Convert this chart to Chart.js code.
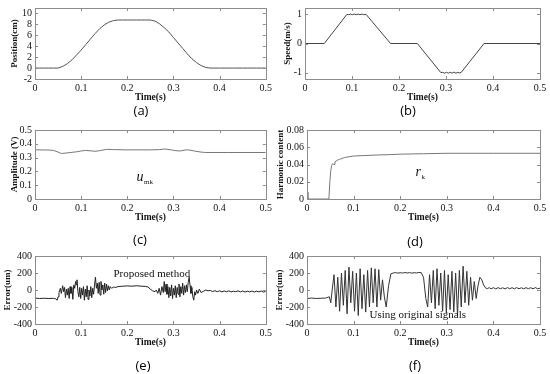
<!DOCTYPE html>
<html>
<head>
<meta charset="utf-8">
<script src="https://cdn.jsdelivr.net/npm/chart.js@4/dist/chart.umd.min.js"></script>
<style>
  body { margin: 0; background: #fff; width: 550px; height: 374px; position: relative; overflow: hidden; }
  canvas { position: absolute; }
  .lab { position: absolute; font-family: 'Open Sans', sans-serif; font-size: 13px; color: #000; transform: translate(-50%, -50%); }
</style>
</head>
<body>
<script>
// (a) position in cm, sampled every 10 ms
const posT = [0, 0.01, 0.02, 0.03, 0.04, 0.05, 0.06, 0.07, 0.08, 0.09, 0.1, 0.11, 0.12, 0.13, 0.14, 0.15, 0.16, 0.17, 0.18,
  0.19, 0.2, 0.21, 0.22, 0.23, 0.24, 0.25, 0.26, 0.27, 0.28, 0.29, 0.3, 0.31, 0.32, 0.33, 0.34, 0.35, 0.36, 0.37, 0.38,
  0.39, 0.4, 0.41, 0.42, 0.43, 0.44, 0.45, 0.46, 0.47, 0.48, 0.49, 0.5];
const posY = [0, 0, 0, 0, 0, 0, 0.3, 0.8, 1.5, 2.4, 3.3, 4.3, 5.3, 6.3, 7.2, 7.9, 8.4, 8.7, 8.8,
  8.8, 8.8, 8.8, 8.8, 8.8, 8.8, 8.8, 8.6, 8.1, 7.4, 6.6, 5.6, 4.6, 3.6, 2.6, 1.7, 1.0, 0.45, 0.1, 0,
  0, 0, 0, 0, 0, 0, 0, 0, 0, 0, 0, 0];

// (b) speed in m/s
const speedT = [0, 0.041, 0.089, 0.093, 0.097, 0.101, 0.105, 0.109, 0.113, 0.117, 0.121, 0.125, 0.13, 0.182, 0.239,
  0.289, 0.293, 0.297, 0.301, 0.305, 0.309, 0.313, 0.317, 0.321, 0.325, 0.329, 0.332, 0.381, 0.5];
const speedY = [0, 0, 1, 0.99, 1.01, 0.99, 1.01, 0.99, 1.01, 0.99, 1.01, 0.99, 1, 0, 0,
  -1, -0.99, -1.02, -0.99, -1.02, -0.99, -1.02, -0.98, -1.02, -0.99, -1.01, -1, 0, 0];

// (c) amplitude in V
const ampT = [0, 0.03, 0.04, 0.05, 0.057, 0.065, 0.08, 0.09, 0.1, 0.11, 0.12, 0.13, 0.14, 0.155, 0.17, 0.2, 0.25,
  0.27, 0.282, 0.295, 0.305, 0.315, 0.325, 0.333, 0.345, 0.36, 0.37, 0.42, 0.5];
const ampY = [0.356, 0.355, 0.352, 0.34, 0.33, 0.332, 0.338, 0.342, 0.348, 0.352, 0.349, 0.346, 0.35, 0.36, 0.358, 0.356, 0.356,
  0.358, 0.362, 0.356, 0.35, 0.348, 0.355, 0.356, 0.348, 0.34, 0.337, 0.337, 0.337];

// (d) harmonic content
const harmT = [0, 0.002, 0.047, 0.049, 0.051, 0.053, 0.055, 0.058, 0.06, 0.065, 0.07, 0.08, 0.09, 0.1, 0.12, 0.15,
  0.18, 0.2, 0.25, 0.3, 0.4, 0.5];
const harmY = [0.008, 0, 0, 0.02, 0.033, 0.039, 0.041, 0.04, 0.043, 0.045, 0.046, 0.048, 0.049, 0.0498, 0.0503, 0.051,
  0.0515, 0.052, 0.0525, 0.053, 0.053, 0.053];

// (e) error with the proposed method, um  [time, value]
const errProp = [[0, -95], [0.01, -100], [0.02, -97], [0.03, -100], [0.04, -98], [0.045, -105], [0.048, -120],
  [0.05, -80], [0.052, -30], [0.055, 20], [0.057, -40], [0.06, 50], [0.062, -20], [0.064, 30], [0.066, -90],
  [0.068, 10], [0.07, -60], [0.072, 20], [0.074, -100], [0.076, 40], [0.078, -40], [0.08, 30], [0.082, -110],
  [0.084, 60], [0.086, 20], [0.088, 100], [0.09, 60], [0.091, 120], [0.093, -20], [0.095, -80], [0.097, 30],
  [0.099, -100], [0.101, 20], [0.103, -60], [0.105, 40], [0.107, -120], [0.109, 10], [0.111, -80], [0.113, 50],
  [0.115, -110], [0.117, 0], [0.119, -70], [0.121, 40], [0.123, -90], [0.125, 20], [0.127, -50], [0.129, 60],
  [0.131, 150], [0.133, 20], [0.135, 80], [0.137, -40], [0.139, 90], [0.141, -60], [0.143, 100], [0.145, 0],
  [0.147, 60], [0.149, -50], [0.151, 80], [0.153, -30], [0.155, 70], [0.157, -10], [0.159, 50], [0.161, 0],
  [0.163, 40], [0.166, 20], [0.17, 35], [0.175, 30], [0.18, 40], [0.19, 45], [0.2, 48], [0.21, 45], [0.22, 50],
  [0.23, 45], [0.24, 42], [0.245, 35], [0.25, 10], [0.255, -10], [0.26, -20], [0.263, 0], [0.266, -40],
  [0.269, 20], [0.272, -60], [0.275, 40], [0.278, -30], [0.28, 100], [0.282, -20], [0.284, 70], [0.286, -50],
  [0.288, 40], [0.29, -90], [0.292, 30], [0.294, -70], [0.296, 60], [0.298, -100], [0.3, 20], [0.302, -60],
  [0.304, 50], [0.306, -90], [0.308, 30], [0.31, -50], [0.312, 70], [0.314, -80], [0.316, 40], [0.318, -40],
  [0.32, 80], [0.322, -60], [0.324, 50], [0.326, -30], [0.328, 60], [0.33, -20], [0.332, 90], [0.334, 150],
  [0.336, 50], [0.338, -40], [0.34, 30], [0.342, -80], [0.344, -120], [0.346, -20], [0.348, -60], [0.35, 0],
  [0.353, -40], [0.356, 10], [0.36, -30], [0.365, -15], [0.37, 0], [0.375, -10], [0.38, -5], [0.385, -18],
  [0.39, -8], [0.395, -20], [0.4, -10], [0.405, -22], [0.41, -12], [0.415, -20], [0.42, -10], [0.425, -22],
  [0.43, -14], [0.435, -20], [0.44, -10], [0.445, -22], [0.45, -12], [0.455, -24], [0.46, -14], [0.465, -22],
  [0.47, -12], [0.475, -24], [0.48, -14], [0.485, -22], [0.49, -12], [0.495, -24], [0.5, -16]];

// (f) error using the original signals, um  [time, value]
const errOrig = [[0, -100], [0.01, -95], [0.02, -100], [0.03, -97], [0.04, -95], [0.045, -85], [0.048, -80],
  [0.051, -150], [0.054, 0], [0.058, 180], [0.062, -200], [0.066, 150], [0.07, -250], [0.074, 200], [0.078, -180],
  [0.082, 230], [0.086, -280], [0.09, 270], [0.094, -150], [0.098, 220], [0.102, -250], [0.106, 200], [0.11, -300],
  [0.114, 250], [0.118, -220], [0.122, 180], [0.126, -260], [0.13, 230], [0.134, -200], [0.138, 260], [0.142, -150],
  [0.146, 250], [0.15, -200], [0.154, 240], [0.158, -120], [0.162, 120], [0.166, -80], [0.17, -200], [0.175, 50],
  [0.18, 190], [0.185, 200], [0.19, 205], [0.195, 198], [0.2, 204], [0.205, 199], [0.21, 206], [0.215, 200],
  [0.22, 205], [0.225, 198], [0.23, 204], [0.235, 200], [0.24, 206], [0.245, 205], [0.25, 150], [0.255, -100],
  [0.259, -200], [0.263, 180], [0.267, -150], [0.271, 230], [0.275, -220], [0.279, 250], [0.283, -180],
  [0.287, 200], [0.291, -250], [0.295, 230], [0.299, -270], [0.303, 180], [0.307, -230], [0.311, 220],
  [0.315, -260], [0.319, 200], [0.323, -300], [0.327, 230], [0.331, -200], [0.335, 280], [0.339, -150],
  [0.343, 220], [0.347, -180], [0.351, 150], [0.355, -120], [0.359, 100], [0.363, -100], [0.367, 50],
  [0.371, 150], [0.375, 120], [0.379, 60], [0.383, 25], [0.387, 15], [0.391, 28], [0.395, 14], [0.4, 27],
  [0.405, 13], [0.41, 28], [0.415, 15], [0.42, 26], [0.425, 13], [0.43, 28], [0.435, 15], [0.44, 27],
  [0.445, 14], [0.45, 28], [0.455, 15], [0.46, 26], [0.465, 13], [0.47, 28], [0.475, 15], [0.48, 27],
  [0.485, 14], [0.49, 28], [0.495, 15], [0.5, 22]];

const fmt = v => String(Math.round(v * 1000) / 1000);
const serif = "'Liberation Serif', 'Times New Roman', serif";

// box with inward tick marks, plus text notes in data coordinates
const frame = {
  id: 'frame',
  afterDatasetsDraw(chart, args, opts) {
    const { ctx, chartArea: a, scales: { x, y } } = chart;
    ctx.save();
    ctx.strokeStyle = '#8c8c8c';
    ctx.lineWidth = 1;
    ctx.strokeRect(Math.round(a.left) + 0.5, Math.round(a.top) + 0.5, Math.round(a.width), Math.round(a.height));
    ctx.beginPath();
    x.ticks.forEach(t => {
      const px = Math.round(x.getPixelForValue(t.value)) + 0.5;
      ctx.moveTo(px, a.bottom); ctx.lineTo(px, a.bottom - 3);
      ctx.moveTo(px, a.top); ctx.lineTo(px, a.top + 3);
    });
    y.ticks.forEach(t => {
      const py = Math.round(y.getPixelForValue(t.value)) + 0.5;
      ctx.moveTo(a.left, py); ctx.lineTo(a.left + 3, py);
      ctx.moveTo(a.right, py); ctx.lineTo(a.right - 3, py);
    });
    ctx.stroke();
    ctx.fillStyle = '#111';
    ctx.textBaseline = 'alphabetic';
    (opts.notes || []).forEach(n => {
      const px = x.getPixelForValue(n.x), py = y.getPixelForValue(n.y);
      if (n.sub) {
        ctx.font = 'italic 14px ' + serif;
        ctx.fillText(n.text, px, py);
        const w = ctx.measureText(n.text).width;
        ctx.font = '7px ' + serif;
        ctx.fillText(n.sub, px + w + 0.5, py + 3);
      } else {
        ctx.font = '11px ' + serif;
        ctx.fillText(n.text, px, py);
      }
    });
    ctx.restore();
  }
};

const pair = (ts, vs) => ts.map((t, i) => ({ x: t, y: vs[i] }));
const obj = pts => pts.map(p => ({ x: p[0], y: p[1] }));

// L, T: canvas corner; area: [left, right, top, bottom] of the plot box on the page
const panels = [
  { tag: '(a)', L: 0, T: 0, area: [35, 268, 7, 79], data: pair(posT, posY), ymin: -2, ymax: 11, step: 2,
    title: 'Position(cm)', tpad: 10, color: '#555', lab: [141, 110] },
  { tag: '(b)', L: 275, T: 0, area: [305, 540, 7, 79], data: pair(speedT, speedY), ymin: -1.22, ymax: 1.22, step: 1,
    title: 'Speed(m/s)', tpad: 8, color: '#444', lab: [408, 110] },
  { tag: '(c)', L: 0, T: 122, area: [35, 268, 128, 199], data: pair(ampT, ampY), ymin: 0, ymax: 0.5, step: 0.1,
    title: 'Amplitude (V)', tpad: 10, color: '#777', lab: [140, 239],
    notes: [{ text: 'u', sub: 'mk', x: 0.22, y: 0.133 }] },
  { tag: '(d)', L: 275, T: 122, area: [307, 540, 130, 199], data: pair(harmT, harmY), ymin: 0, ymax: 0.08, step: 0.02,
    title: 'Harmonic content', tpad: 1.5, color: '#777', lab: [415, 241],
    notes: [{ text: 'r', sub: 'k', x: 0.233, y: 0.027 }] },
  { tag: '(e)', L: 0, T: 248, area: [35, 268, 255, 324], data: obj(errProp), ymin: -400, ymax: 400, step: 200,
    title: 'Error(um)', tpad: 3, color: '#222', lab: [143, 365],
    notes: [{ text: 'Proposed method', x: 0.17, y: 157 }] },
  { tag: '(f)', L: 275, T: 248, area: [307, 540, 255, 324], data: obj(errOrig), ymin: -400, ymax: 400, step: 200,
    title: 'Error(um)', tpad: 0.5, color: '#333', lab: [415, 365],
    notes: [{ text: 'Using original signals', x: 0.134, y: -325 }] }
];

panels.forEach(p => {
  const W = 275, H = p.area[3] - p.T + 23;
  const cv = document.createElement('canvas');
  cv.width = W; cv.height = H;
  cv.style.left = p.L + 'px'; cv.style.top = p.T + 'px';
  document.body.appendChild(cv);

  const lab = document.createElement('div');
  lab.className = 'lab';
  lab.textContent = p.tag;
  lab.style.left = p.lab[0] + 'px'; lab.style.top = p.lab[1] + 'px';
  document.body.appendChild(lab);

  new Chart(cv, {
    type: 'line',
    data: { datasets: [{ data: p.data, borderColor: p.color, borderWidth: 1, pointRadius: 0, tension: 0 }] },
    options: {
      responsive: false,
      animation: false,
      devicePixelRatio: 1,
      layout: { padding: { left: 0, right: p.L + W - p.area[1], top: p.area[2] - p.T, bottom: 0 } },
      plugins: { legend: { display: false }, tooltip: { enabled: false }, frame: { notes: p.notes || [] } },
      scales: {
        x: {
          type: 'linear', min: 0, max: 0.5,
          afterFit: s => { s.height = 23; },
          grid: { display: false, drawTicks: false },
          border: { display: false },
          ticks: { stepSize: 0.1, padding: 3, maxRotation: 0, autoSkip: false, callback: fmt,
            color: '#111', font: { family: serif, size: 10 } },
          title: { display: true, text: 'Time(s)', color: '#111', padding: 0,
            font: { family: serif, size: 9.5, weight: 'bold', lineHeight: 1 } }
        },
        y: {
          type: 'linear', min: p.ymin, max: p.ymax,
          afterFit: s => { s.width = p.area[0] - p.L; },
          grid: { display: false, drawTicks: false },
          border: { display: false },
          ticks: { stepSize: p.step, includeBounds: false, autoSkip: false, padding: 3, callback: fmt,
            color: '#111', font: { family: serif, size: 10, lineHeight: 1 } },
          title: { display: true, text: p.title, color: '#111', padding: { top: p.tpad, bottom: 0 },
            font: { family: serif, size: 9, weight: 'bold', lineHeight: 1 } }
        }
      }
    },
    plugins: [frame]
  });
});
</script>
</body>
</html>
